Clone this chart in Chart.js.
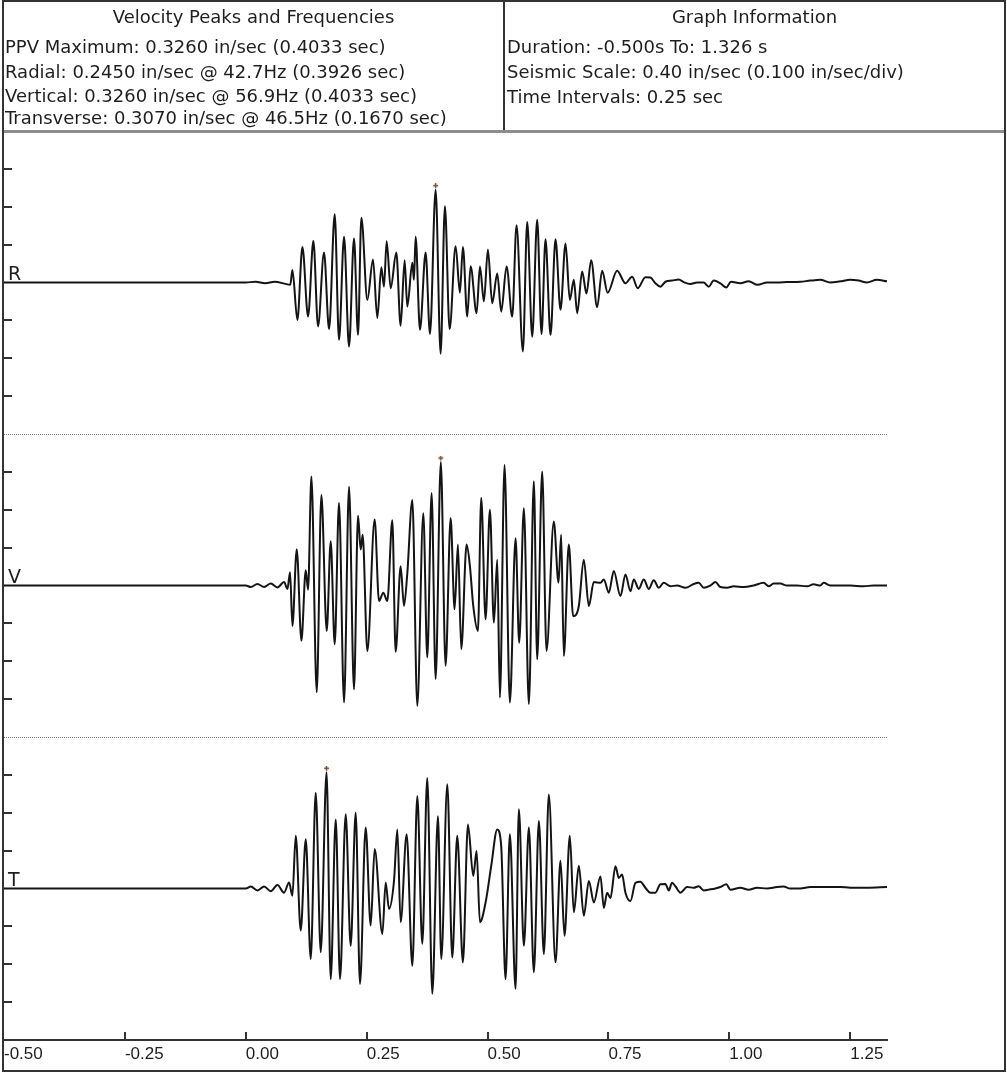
<!DOCTYPE html>
<html>
<head>
<meta charset="utf-8">
<title>Seismograph</title>
<script src="https://cdn.jsdelivr.net/npm/chart.js@4.4.0/dist/chart.umd.min.js"></script>
<style>
  html, body { margin: 0; padding: 0; background: #fff; }
  body { width: 1007px; height: 1073px; position: relative; overflow: hidden;
         font-family: "DejaVu Sans", sans-serif; color: #1e1e1e; }
  .plot { position: absolute; left: 0; top: 131px; width: 1007px; height: 942px; }
  .frame { position: absolute; left: 2px; top: 0; width: 1004px; height: 1072px;
           border: 2px solid #333; box-sizing: border-box; }
  .hline { position: absolute; left: 4px; top: 130px; width: 1000px; height: 3px; background: #8c8c8c; }
  .vline { position: absolute; left: 503px; top: 2px; width: 2px; height: 128px; background: #333; }
  .txt { position: absolute; font-size: 18px; line-height: 24px; white-space: nowrap; }
  .ttl { width: 499px; text-align: center; }
</style>
</head>
<body>
<div class="plot"><canvas id="seis" width="1007" height="942" style="width:1007px;height:942px"></canvas></div>
<div class="frame"></div>
<div class="hline"></div>
<div class="vline"></div>

<div class="txt ttl" style="left:4px;top:5px">Velocity Peaks and Frequencies</div>
<div class="txt" style="left:5px;top:35px">PPV Maximum: 0.3260 in/sec (0.4033 sec)</div>
<div class="txt" style="left:5px;top:60px">Radial: 0.2450 in/sec @ 42.7Hz (0.3926 sec)</div>
<div class="txt" style="left:5px;top:84px">Vertical: 0.3260 in/sec @ 56.9Hz (0.4033 sec)</div>
<div class="txt" style="left:5px;top:106px">Transverse: 0.3070 in/sec @ 46.5Hz (0.1670 sec)</div>

<div class="txt ttl" style="left:505px;top:5px">Graph Information</div>
<div class="txt" style="left:507px;top:35px">Duration: -0.500s To: 1.326 s</div>
<div class="txt" style="left:507px;top:60px">Seismic Scale: 0.40 in/sec (0.100 in/sec/div)</div>
<div class="txt" style="left:507px;top:85px">Time Intervals: 0.25 sec</div>

<script>
// time in ms, velocity in in/sec
const rTime = [
  -500, 0, 20, 40, 60, 80, 92, 96.4, 106.7, 117.1,
  128.8, 139.8, 149.4, 161.8, 172.2, 183.9, 192.8, 203.2, 213.5, 223.8,
  232.1, 239.0, 251.4, 263.1, 272.0, 280.3, 285.8, 291.3, 299.6, 311.3,
  320.2, 328.5, 334.0, 344.4, 347.8, 351.2, 360.2, 371.9, 380.9, 392.6,
  402.9, 411.8, 421.5, 433.9, 442.8, 449.0, 458.0, 464.9, 477.3, 484.2,
  492.4, 500.7, 509.6, 520.0, 528.2, 539.3, 551.0, 559.9, 573.0, 582.0,
  592.3, 602.6, 611.6, 619.8, 630.2, 640.5, 650.8, 661.2, 670.1, 678.4,
  685.3, 695.6, 704.5, 714.2, 726.6, 736.9, 748.3, 767.9, 785.1, 798.9,
  810.6, 826.4, 836.8, 847.1, 857.4, 867.8, 881.5, 895.3, 905.6, 919.4,
  933.2, 947.0, 957.3, 967.6, 981.4, 993.8, 1003.4, 1022.7, 1039.9, 1058.5,
  1077.8, 1098.5, 1119.1, 1146.7, 1167.4, 1188.0, 1208.7, 1229.3, 1250.0, 1267.2,
  1284.4, 1305.1, 1326
];
const rVel = [
  0, 0, 0.002, -0.002, 0.002, -0.003, -0.006, 0.033, -0.099, 0.094,
  -0.090, 0.110, -0.116, 0.079, -0.123, 0.180, -0.151, 0.121, -0.169, 0.116,
  -0.138, 0.171, -0.046, 0.061, -0.094, 0.040, -0.011, 0.109, -0.015, 0.079,
  -0.114, 0.059, -0.064, 0.052, 0.007, 0.121, -0.125, 0.079, -0.136, 0.245,
  -0.188, 0.201, -0.123, 0.096, -0.027, 0.094, -0.090, 0.043, -0.081, 0.042,
  -0.050, 0.087, -0.055, 0.024, -0.077, 0.042, -0.090, 0.151, -0.182, 0.160,
  -0.143, 0.166, -0.136, 0.114, -0.138, 0.114, -0.072, 0.103, -0.046, 0.007,
  -0.081, 0.029, -0.029, 0.059, -0.065, 0.031, -0.027, 0.031, -0.002, 0.015,
  -0.015, 0.014, 0.013, -0.002, -0.011, 0.002, 0.005, 0.008, 0.001, -0.004,
  0.000, 0.000, -0.011, 0.005, -0.002, -0.013, 0.002, -0.002, 0.003, -0.006,
  0.000, 0.000, 0.001, 0.002, 0.005, 0.007, 0.000, 0.003, 0.007, 0.005,
  0.000, 0.007, 0.003
];

const vTime = [
  -500, 0, 10.3, 24.1, 37.9, 51.7, 65.4, 79.2, 86.1, 91.6,
  96.4, 105.4, 115.0, 124.0, 128.8, 135.7, 146.7, 156.3, 167.4, 175.6,
  183.9, 192.8, 203.2, 213.5, 223.8, 232.1, 237.6, 241.7, 251.4, 266.5,
  275.5, 284.4, 292.7, 303.0, 309.9, 320.2, 327.1, 334.0, 344.4, 354.7,
  367.1, 375.3, 384.3, 392.6, 403.3, 413.2, 423.6, 431.8, 438.7, 445.6,
  456.6, 463.5, 470.4, 480.0, 486.9, 495.9, 504.8, 513.1, 520.0, 525.5,
  535.1, 546.1, 557.9, 565.4, 575.1, 585.4, 595.7, 602.6, 612.9, 621.9,
  637.0, 646.7, 652.2, 657.7, 668.0, 677.0, 688.7, 699.0, 709.4, 719.7,
  733.5, 740.4, 750.7, 761.0, 774.8, 785.1, 795.5, 802.3, 812.7, 823.0,
  833.3, 843.7, 854.0, 864.3, 878.1, 891.9, 909.1, 926.3, 936.6, 947.0,
  960.7, 971.1, 981.4, 995.2, 1009.0, 1029.6, 1050.3, 1070.9, 1081.3, 1091.6,
  1105.4, 1119.1, 1139.8, 1160.5, 1174.2, 1188.0, 1194.9, 1208.7, 1250.0, 1277.5,
  1298.2, 1326
];
const vVel = [
  0, 0, -0.004, 0.004, -0.004, 0.005, -0.005, 0.009, -0.009, 0.035,
  -0.107, 0.096, -0.146, 0.040, -0.011, 0.288, -0.282, 0.239, -0.120, 0.117,
  -0.155, 0.218, -0.309, 0.261, -0.274, 0.184, 0.095, 0.134, -0.173, 0.174,
  -0.041, -0.019, -0.041, 0.172, -0.175, 0.051, -0.054, 0.032, 0.226, -0.318,
  0.191, -0.190, 0.244, -0.247, 0.326, -0.212, 0.178, -0.063, 0.108, -0.168,
  0.108, 0.051, -0.054, -0.120, 0.231, -0.089, 0.200, -0.098, 0.068, -0.296,
  0.318, -0.309, 0.125, -0.151, 0.204, -0.313, 0.275, -0.195, 0.301, -0.173,
  0.169, 0.007, 0.134, -0.186, 0.108, -0.081, -0.054, 0.068, -0.054, 0.009,
  0.007, 0.016, -0.019, 0.038, -0.028, 0.029, -0.015, 0.016, -0.009, 0.016,
  -0.009, 0.014, -0.006, 0.007, -0.002, 0, -0.006, 0.004, 0.007, -0.006,
  0, 0.009, -0.004, -0.006, -0.002, -0.004, 0, 0.007, -0.002, 0.005,
  0.005, 0, 0, -0.002, 0.003, 0, 0.007, 0, 0, -0.002,
  0, 0
];

const tTime = [
  -500, 0, 10.3, 24.1, 37.9, 51.7, 65.4, 79.2, 89.5, 96.4,
  103.3, 113.6, 124.0, 134.3, 144.6, 155.0, 167.0, 175.6, 186.0, 194.9,
  206.6, 216.9, 227.3, 236.2, 247.9, 258.3, 266.5, 282.4, 289.3, 296.1,
  306.5, 313.4, 320.2, 332.6, 344.4, 354.7, 365.0, 375.3, 385.7, 397.4,
  404.3, 416.7, 427.0, 437.3, 449.0, 459.4, 470.4, 477.3, 484.2, 495.9,
  507.6, 520.0, 528.2, 537.2, 546.1, 557.9, 564.7, 575.1, 585.4, 595.7,
  606.1, 616.4, 626.7, 640.5, 650.8, 659.1, 670.1, 678.4, 688.7, 699.0,
  709.4, 719.7, 733.5, 740.4, 747.2, 754.1, 764.5, 771.3, 778.2, 785.1,
  795.5, 805.8, 816.1, 826.4, 836.8, 847.1, 857.4, 867.8, 874.7, 881.5,
  888.4, 898.8, 912.5, 926.3, 936.6, 947.0, 957.3, 971.1, 981.4, 993.8,
  1002.1, 1022.7, 1039.9, 1057.1, 1077.8, 1098.5, 1112.3, 1126.0, 1146.7, 1167.4,
  1188.0, 1208.7, 1229.3, 1250.0, 1284.4, 1326
];
const tVel = [
  0, 0, 0.005, -0.005, 0.005, -0.007, 0.009, -0.011, 0.016, -0.019,
  0.139, -0.111, 0.130, -0.186, 0.253, -0.168, 0.307, -0.239, 0.182, -0.239,
  0.196, -0.151, 0.200, -0.252, 0.161, -0.098, 0.104, -0.120, 0.016, -0.054,
  0.020, 0.156, -0.089, 0.143, -0.204, 0.244, -0.146, 0.292, -0.278, 0.191,
  -0.186, 0.275, -0.182, 0.139, -0.195, 0.169, 0.033, 0.099, -0.089, -0.037,
  0.060, 0.156, 0.112, -0.239, 0.143, -0.265, 0.209, -0.151, 0.161, -0.221,
  0.178, -0.173, 0.248, -0.195, 0.073, -0.125, 0.139, -0.063, 0.060, -0.072,
  0.020, -0.037, 0.032, -0.051, -0.011, -0.025, 0.059, 0.028, 0.037, -0.011,
  -0.033, 0.015, 0.018, 0.002, -0.011, -0.011, 0.011, 0.012, -0.005, 0.015,
  0.006, -0.011, 0.004, 0.002, 0.006, -0.005, -0.003, 0, 0.004, 0.011,
  -0.003, 0.002, -0.003, 0.002, 0, 0.004, 0.005, 0, 0, 0.004,
  0.004, 0.004, 0.004, 0.002, 0.002, 0.004
];

// peak values marked on each trace (R, V, T)
const peakTime = [392.6, 403.3, 167.0];
const peakVel = [0.245, 0.326, 0.307];

const xTicks = [-500, -250, 0, 250, 500, 750, 1000, 1250];
const divisions = [-0.3, -0.2, -0.1, 0.1, 0.2, 0.3]; // 0.100 in/sec per div

// each trace gets its own 0.8 in/sec band
const channels = [
  { label: "R", time: rTime, vel: rVel, offset: 0.8 },
  { label: "V", time: vTime, vel: vVel, offset: 0 },
  { label: "T", time: tTime, vel: tVel, offset: -0.8 },
];
const bandEdges = [0.4, -0.4];

// small tick mark that sits just above the peak point
const marker = document.createElement("canvas");
marker.width = 9;
marker.height = 13;
const mctx = marker.getContext("2d");
mctx.strokeStyle = "#6e4a2c";
mctx.lineWidth = 1.4;
mctx.beginPath();
mctx.moveTo(2, 2.5); mctx.lineTo(7, 2.5);
mctx.moveTo(4.5, 0); mctx.lineTo(4.5, 5);
mctx.stroke();

const decorations = {
  id: "decorations",
  beforeDatasetsDraw(chart) {
    const { ctx, chartArea: a, scales: { y } } = chart;
    ctx.save();
    ctx.strokeStyle = "#7a7a7a";
    ctx.lineWidth = 1;
    ctx.setLineDash([1, 1]);
    bandEdges.forEach((v) => {
      const py = Math.round(y.getPixelForValue(v)) + 0.5;
      ctx.beginPath();
      ctx.moveTo(a.left, py);
      ctx.lineTo(a.right, py);
      ctx.stroke();
    });
    ctx.restore();
  },
  afterDatasetsDraw(chart) {
    const { ctx, chartArea: a, scales: { x, y } } = chart;
    ctx.save();
    ctx.strokeStyle = "#333";
    ctx.lineWidth = 2;
    ctx.beginPath();
    channels.forEach((ch) => {
      divisions.forEach((d) => {
        const py = Math.round(y.getPixelForValue(ch.offset + d));
        ctx.moveTo(a.left, py);
        ctx.lineTo(a.left + 8, py);
      });
    });
    x.ticks.forEach((t) => {
      if (t.value <= x.min) return;
      const px = Math.round(x.getPixelForValue(t.value));
      ctx.moveTo(px, a.bottom);
      ctx.lineTo(px, a.bottom - 8);
    });
    ctx.stroke();

    ctx.fillStyle = "#1e1e1e";
    ctx.font = '19px "DejaVu Sans"';
    ctx.textBaseline = "alphabetic";
    channels.forEach((ch) => {
      ctx.fillText(ch.label, a.left + 4, y.getPixelForValue(ch.offset) - 3);
    });
    ctx.restore();
  },
};

const datasets = channels.map((ch) => ({
  label: ch.label,
  data: ch.time.map((t, i) => ({ x: t, y: ch.vel[i] + ch.offset })),
  borderColor: "#141414",
  borderWidth: 2,
  pointRadius: 0,
  cubicInterpolationMode: "monotone",
}));

datasets.push({
  type: "scatter",
  label: "peaks",
  data: peakTime.map((t, i) => ({ x: t, y: peakVel[i] + channels[i].offset })),
  pointStyle: marker,
  pointRadius: 5,
});

new Chart(document.getElementById("seis"), {
  type: "line",
  data: { datasets },
  plugins: [decorations],
  options: {
    responsive: false,
    animation: false,
    devicePixelRatio: 1,
    layout: { autoPadding: false, padding: { left: 3, right: 120, top: 0, bottom: 0 } },
    scales: {
      x: {
        type: "linear",
        min: -500,
        max: 1326,
        afterBuildTicks: (scale) => {
          scale.ticks = xTicks.map((v) => ({ value: v }));
        },
        afterFit: (scale) => {
          scale.height = 33;
        },
        grid: { display: false, drawTicks: false },
        border: { display: true, color: "#333", width: 2 },
        ticks: {
          align: "start",
          padding: 4,
          autoSkip: false,
          maxRotation: 0,
          color: "#1e1e1e",
          font: { family: "Liberation Sans", size: 17 },
          callback: (v) => (v / 1000).toFixed(2),
        },
      },
      y: {
        type: "linear",
        min: -1.2,
        max: 1.2,
        display: false,
      },
    },
    plugins: {
      legend: { display: false },
      tooltip: { enabled: false },
    },
  },
});
</script>
</body>
</html>
